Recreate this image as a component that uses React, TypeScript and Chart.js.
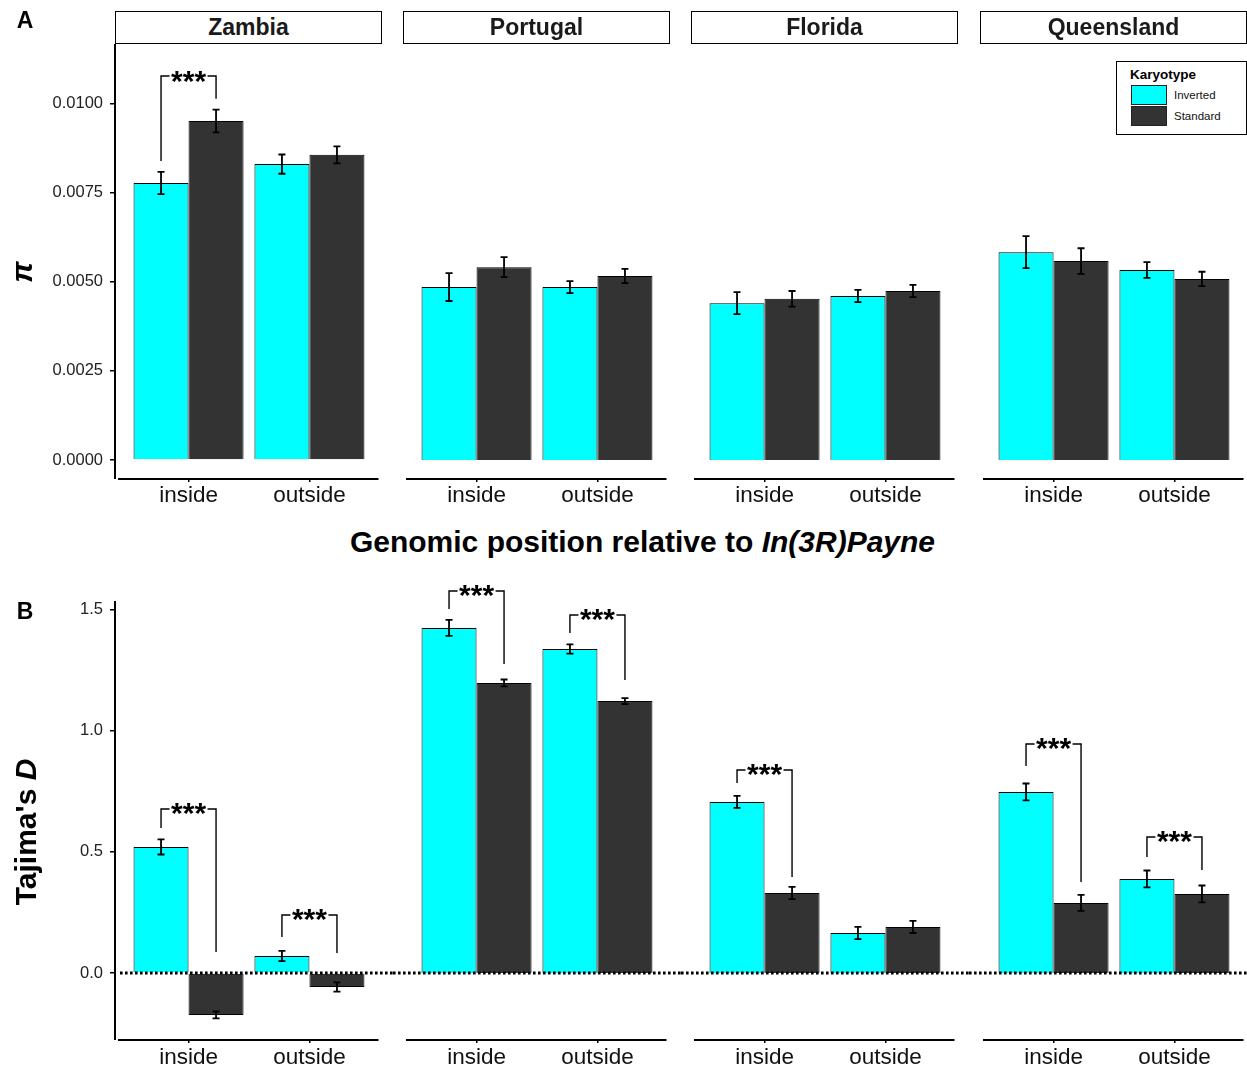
import React, { useEffect, useRef } from 'react';
import { Chart, registerables } from 'chart.js';
Chart.register(...registerables);

const FONT = '"Liberation Sans", Arial, Helvetica, sans-serif';

// ---------- data ----------
const populations = ['Zambia', 'Portugal', 'Florida', 'Queensland'];
const regions = ['inside', 'outside'];
const regionPositions = [1, 2];
const karyotypes = ['Inverted', 'Standard'];
const karyotypeColors = ['#00FFFF', '#333333'];

// nucleotide diversity (pi), [population][region]
const piInverted = [[0.00777, 0.0083], [0.00485, 0.00485], [0.0044, 0.0046], [0.00583, 0.00533]];
const piInvertedErr = [[0.00031, 0.00027], [0.00039, 0.00017], [0.00031, 0.00017], [0.00045, 0.00022]];
const piStandard = [[0.00951, 0.00856], [0.00541, 0.00516], [0.00452, 0.00474], [0.00558, 0.00508]];
const piStandardErr = [[0.00032, 0.00024], [0.00028, 0.0002], [0.00022, 0.00017], [0.00036, 0.0002]];

// Tajima's D, [population][region]
const tajInverted = [[0.52, 0.07], [1.424, 1.337], [0.706, 0.165], [0.747, 0.388]];
const tajInvertedErr = [[0.031, 0.021], [0.033, 0.019], [0.025, 0.025], [0.035, 0.035]];
const tajStandard = [[-0.173, -0.058], [1.197, 1.122], [0.33, 0.19], [0.289, 0.326]];
const tajStandardErr = [[0.014, 0.019], [0.014, 0.012], [0.025, 0.025], [0.033, 0.035]];

// significance brackets: top height, left/right leg ends
const piSignif = [
  { pop: 0, region: 0, top: 0.01077, left: 0.00839, right: 0.01013, label: '***' },
];
const tajSignif = [
  { pop: 0, region: 0, top: 0.6768, left: 0.5984, right: 0.0867, label: '***' },
  { pop: 0, region: 1, top: 0.2393, left: 0.1486, right: 0.0825, label: '***' },
  { pop: 1, region: 0, top: 1.5764, left: 1.5021, right: 1.2751, label: '***' },
  { pop: 1, region: 1, top: 1.4773, left: 1.403, right: 1.2091, label: '***' },
  { pop: 2, region: 0, top: 0.8377, left: 0.784, right: 0.3962, label: '***' },
  { pop: 3, region: 0, top: 0.945, left: 0.8542, right: 0.3755, label: '***' },
  { pop: 3, region: 1, top: 0.5612, left: 0.4787, right: 0.425, label: '***' },
];

const piTicks = [0, 0.0025, 0.005, 0.0075, 0.01];
const piTickLabels = ['0.0000', '0.0025', '0.0050', '0.0075', '0.0100'];
const tajTicks = [0, 0.5, 1.0, 1.5];
const tajTickLabels = ['0.0', '0.5', '1.0', '1.5'];

// ---------- layout ----------
const PANEL_LEFT = [116, 404, 692, 981];
const PANEL_W = 266;
const CANVAS_LEFT = [0, 393, 681, 969];
const CANVAS_RIGHT = [393, 681, 969, 1247];

const ROWS = [
  {
    canvasTop: 24, padTop: 20, areaH: 434, axisH: 34, labelPad: 0,
    min: -0.000505, max: 0.011669, ticks: piTicks, tickLabels: piTickLabels,
    inv: piInverted, invErr: piInvertedErr, std: piStandard, stdErr: piStandardErr,
    signif: piSignif, zeroLine: false,
  },
  {
    canvasTop: 560, padTop: 41, areaH: 438, axisH: 30, labelPad: 1,
    min: -0.2724, max: 1.535, ticks: tajTicks, tickLabels: tajTickLabels,
    inv: tajInverted, invErr: tajInvertedErr, std: tajStandard, stdErr: tajStandardErr,
    signif: tajSignif, zeroLine: true,
  },
];

function PanelChart({ row, col }: { row: number; col: number }) {
  const ref = useRef<HTMLCanvasElement>(null);
  const cfg = ROWS[row];
  const cl = CANVAS_LEFT[col];
  const cr = CANVAS_RIGHT[col];
  const width = cr - cl;
  const height = cfg.padTop + cfg.areaH + cfg.axisH;

  useEffect(() => {
    const canvas = ref.current;
    if (!canvas) return;
    const vals = [cfg.inv[col], cfg.std[col]];
    const errs = [cfg.invErr[col], cfg.stdErr[col]];

    const overlay = {
      id: 'overlay' + row + col,
      afterDatasetsDraw(chart: any) {
        const ctx = chart.ctx as CanvasRenderingContext2D;
        const ca = chart.chartArea;
        const ys = chart.scales.y;
        ctx.save();
        // error bars
        ctx.strokeStyle = '#000';
        ctx.lineWidth = 1.8;
        for (let d = 0; d < 2; d++) {
          const meta = chart.getDatasetMeta(d);
          meta.data.forEach((el: any, j: number) => {
            const v = vals[d][j];
            const e = errs[d][j];
            const yt = ys.getPixelForValue(v + e);
            const yb = ys.getPixelForValue(v - e);
            const x = el.x;
            ctx.beginPath();
            ctx.moveTo(x, yt); ctx.lineTo(x, yb);
            ctx.moveTo(x - 3.5, yt); ctx.lineTo(x + 3.5, yt);
            ctx.moveTo(x - 3.5, yb); ctx.lineTo(x + 3.5, yb);
            ctx.stroke();
          });
        }
        // dotted zero line
        if (cfg.zeroLine) {
          const y0 = ys.getPixelForValue(0);
          ctx.setLineDash([2.6, 2.4]);
          ctx.lineWidth = 2.8;
          ctx.beginPath();
          ctx.moveTo(col === 0 ? ca.left + 4 : 0, y0);
          ctx.lineTo(chart.width, y0);
          ctx.stroke();
          ctx.setLineDash([]);
        }
        // axis lines
        ctx.lineWidth = 2;
        ctx.strokeStyle = '#000';
        ctx.beginPath();
        ctx.moveTo(ca.left + 2, ca.bottom + 1);
        ctx.lineTo(ca.right - 3.5, ca.bottom + 1);
        ctx.stroke();
        if (col === 0) {
          ctx.beginPath();
          ctx.moveTo(ca.left - 1, ca.top);
          ctx.lineTo(ca.left - 1, ca.bottom + 1);
          ctx.stroke();
        }
        // significance brackets
        cfg.signif.filter((s) => s.pop === col).forEach((s) => {
          const xl = chart.getDatasetMeta(0).data[s.region].x;
          const xr = chart.getDatasetMeta(1).data[s.region].x;
          const yt = ys.getPixelForValue(s.top);
          const yl = ys.getPixelForValue(s.left);
          const yr = ys.getPixelForValue(s.right);
          ctx.font = `bold 30px ${FONT}`;
          const m = ctx.measureText(s.label);
          const cx = (xl + xr) / 2;
          const gap = m.width / 2 + 1.5;
          ctx.lineWidth = 1.4;
          ctx.strokeStyle = '#000';
          ctx.beginPath();
          ctx.moveTo(xl, yl); ctx.lineTo(xl, yt); ctx.lineTo(cx - gap, yt);
          ctx.moveTo(cx + gap, yt); ctx.lineTo(xr, yt); ctx.lineTo(xr, yr);
          ctx.stroke();
          ctx.fillStyle = '#000';
          ctx.textAlign = 'center';
          ctx.textBaseline = 'alphabetic';
          const asc = m.actualBoundingBoxAscent;
          const desc = m.actualBoundingBoxDescent;
          ctx.fillText(s.label, cx, yt + (asc - desc) / 2 + 0.5);
        });
        ctx.restore();
      },
    };

    const chart = new Chart(canvas, {
      type: 'bar',
      data: {
        datasets: karyotypes.map((k, d) => ({
          label: k,
          data: regionPositions.map((p, j) => ({ x: p, y: vals[d][j] })),
          backgroundColor: karyotypeColors[d],
          borderColor: '#000000',
          borderWidth: 1,
          categoryPercentage: 0.91,
          barPercentage: 1,
        })),
      },
      options: {
        responsive: false,
        animation: false,
        events: [],
        layout: {
          padding: {
            left: col === 0 ? 0 : PANEL_LEFT[col] - cl,
            right: cr - (PANEL_LEFT[col] + PANEL_W),
            top: cfg.padTop,
            bottom: 0,
          },
        },
        plugins: { legend: { display: false }, tooltip: { enabled: false } },
        scales: {
          x: {
            type: 'linear',
            min: 0.4,
            max: 2.6,
            bounds: 'data',
            offset: false,
            grid: { display: true, drawOnChartArea: false, drawTicks: true, tickLength: 4, color: '#000', lineWidth: 1.5, offset: false },
            border: { display: false },
            ticks: {
              font: { family: FONT, size: 22.5 },
              color: '#111',
              padding: cfg.labelPad,
              maxRotation: 0,
              autoSkip: false,
              callback: (v: any) => {
                const i = regionPositions.indexOf(Number(v));
                return i >= 0 ? regions[i] : '';
              },
            },
            afterBuildTicks: (s: any) => { s.ticks = regionPositions.map((v) => ({ value: v })); },
            afterFit: (s: any) => { s.height = cfg.axisH; },
          },
          y: {
            type: 'linear',
            min: cfg.min,
            max: cfg.max,
            bounds: 'data',
            display: col === 0,
            grid: { display: true, drawOnChartArea: false, drawTicks: true, tickLength: 6, color: '#000', lineWidth: 1.5 },
            border: { display: false },
            ticks: {
              font: { family: FONT, size: 16.5 },
              color: '#222',
              padding: 7,
              autoSkip: false,
              callback: (v: any) => {
                const i = cfg.ticks.findIndex((t) => Math.abs(t - Number(v)) < 1e-9);
                return i >= 0 ? cfg.tickLabels[i] : '';
              },
            },
            afterBuildTicks: (s: any) => { s.ticks = cfg.ticks.map((v) => ({ value: v })); },
            afterFit: (s: any) => { if (col === 0) s.width = PANEL_LEFT[0]; else s.width = 0; },
          },
        },
      } as any,
      plugins: [overlay],
    });
    return () => chart.destroy();
  }, []);

  return (
    <canvas
      ref={ref}
      width={width}
      height={height}
      style={{ position: 'absolute', left: cl, top: cfg.canvasTop, width, height }}
    />
  );
}

export default function App() {
  const abs = (o: any) => ({ position: 'absolute' as const, ...o });
  return (
    <div style={{ position: 'absolute', left: 0, top: 0, width: 1247, height: 1069, overflow: 'hidden', background: '#fff', fontFamily: FONT }}>
      {[0, 1].map((r) => [0, 1, 2, 3].map((c) => <PanelChart key={r + '-' + c} row={r} col={c} />))}

      {/* strips */}
      {populations.map((p, c) => (
        <div key={p} style={abs({
          left: PANEL_LEFT[c] - 1, top: 11, width: 267, height: 33, boxSizing: 'border-box',
          border: '1.5px solid #000', background: '#fff', textAlign: 'center',
          fontWeight: 'bold', fontSize: 23, lineHeight: '30px', color: '#1a1a1a',
        })}>{p}</div>
      ))}

      {/* panel letters */}
      <div style={abs({ left: 25, top: 20, transform: 'translate(-50%,-50%)', fontWeight: 'bold', fontSize: 23, lineHeight: 1 })}>A</div>
      <div style={abs({ left: 25, top: 611, transform: 'translate(-50%,-50%)', fontWeight: 'bold', fontSize: 23, lineHeight: 1 })}>B</div>

      {/* y titles */}
      <div style={abs({ left: 22, top: 272, transform: 'translate(-50%,-50%) rotate(-90deg)', fontWeight: 'bold', fontStyle: 'italic', fontSize: 30, lineHeight: 1, whiteSpace: 'nowrap' })}>π</div>
      <div style={abs({ left: 26, top: 832, transform: 'translate(-50%,-50%) rotate(-90deg)', fontWeight: 'bold', fontSize: 30, lineHeight: 1, whiteSpace: 'nowrap' })}>
        Tajima's <i>D</i>
      </div>

      {/* x title */}
      <div style={abs({ left: 642.5, top: 542, transform: 'translate(-50%,-50%)', fontWeight: 'bold', fontSize: 30, lineHeight: 1, whiteSpace: 'nowrap' })}>
        Genomic position relative to <i>In(3R)Payne</i>
      </div>

      {/* legend */}
      <div style={abs({ left: 1116, top: 61, width: 131, height: 74, boxSizing: 'border-box', border: '1.5px solid #000', background: '#fff' })}>
        <div style={abs({ left: 13, top: 5, fontWeight: 'bold', fontSize: 13.5, lineHeight: '16px', whiteSpace: 'nowrap' })}>Karyotype</div>
        {karyotypes.map((k, i) => (
          <React.Fragment key={k}>
            <div style={abs({ left: 14, top: 23 + i * 21, width: 36, height: 20, boxSizing: 'border-box', border: '1px solid #222', background: karyotypeColors[i] })} />
            <div style={abs({ left: 57, top: 25 + i * 21, fontSize: 11.5, lineHeight: '16px', whiteSpace: 'nowrap', color: '#111' })}>{k}</div>
          </React.Fragment>
        ))}
      </div>
    </div>
  );
}
